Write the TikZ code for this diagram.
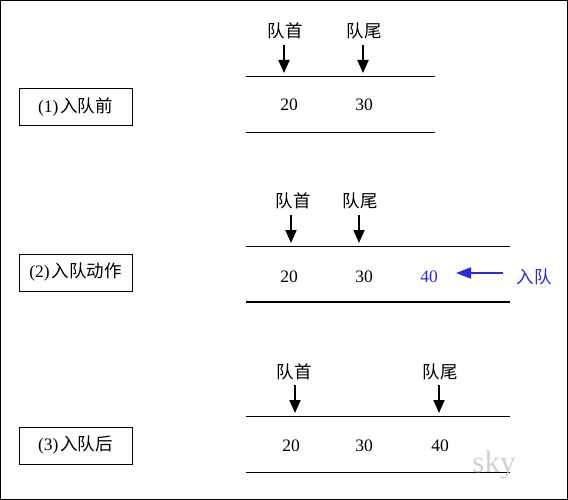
\documentclass[tikz,border=0pt]{standalone}
\usepackage{fontspec}
\setmainfont{Liberation Serif}
\newfontfamily\cjk{Noto Sans CJK SC}
\usetikzlibrary{arrows.meta}
\definecolor{qblue}{RGB}{40,40,230}
\tikzset{
  lbl/.style={draw, line width=0.9pt, minimum width=113pt, minimum height=37pt, inner sep=0pt, font=\fontsize{17.5}{20}\selectfont},
  txt/.style={inner sep=0pt, font=\fontsize{17.5}{20}\selectfont},
  ptr/.style={line width=2pt, -{Triangle[length=13pt,width=11pt]}},
  rail/.style={line width=0.9pt},
}
\begin{document}
\begin{tikzpicture}[x=1pt,y=-1pt]
\draw[line width=1pt] (0.5,0.5) rectangle (567.5,499.5);
\useasboundingbox (0,0) rectangle (568,500);
% panel 1
\node[lbl] (b1) at (75.5,106.5) {(1)\kern2pt{\cjk 入队前}};
\coordinate (l1a) at (246,76); \coordinate (l1b) at (435,76);
\coordinate (l1c) at (246,132); \coordinate (l1d) at (435,132);
\draw[rail] (l1a) -- (l1b);
\draw[rail] (l1c) -- (l1d);
\node[txt] (n120) at (289,105) {20};
\node[txt] (n130) at (364,105) {30};
\node[txt] (h1) at (285,31) {\cjk 队首};
\node[txt] (t1) at (364,31) {\cjk 队尾};
\coordinate (h1s) at (284,45); \coordinate (h1e) at (284,73);
\coordinate (t1s) at (363,45); \coordinate (t1e) at (363,73);
\draw[ptr] (h1s) -- (h1e);
\draw[ptr] (t1s) -- (t1e);
% panel 2
\node[lbl] (b2) at (75.5,272.5) {(2)\kern2pt{\cjk 入队动作}};
\coordinate (l2a) at (246,246); \coordinate (l2b) at (510,246);
\coordinate (l2c) at (246,302); \coordinate (l2d) at (510,302);
\draw[rail] (l2a) -- (l2b);
\draw[line width=2.2pt] (l2c) -- (l2d);
\node[txt] (n220) at (289,277) {20};
\node[txt] (n230) at (364,277) {30};
\node[txt, text=qblue] (n240) at (429,277) {40};
\node[txt] (h2) at (293,201) {\cjk 队首};
\node[txt] (t2) at (360,201) {\cjk 队尾};
\coordinate (h2s) at (291,215); \coordinate (h2e) at (291,243);
\coordinate (t2s) at (359,215); \coordinate (t2e) at (359,243);
\draw[ptr] (h2s) -- (h2e);
\draw[ptr] (t2s) -- (t2e);
\node[txt, text=qblue] (enq) at (534,277) {\cjk 入队};
\coordinate (es) at (503,273); \coordinate (ee) at (456,273);
\draw[ptr, draw=qblue, fill=qblue, -{Triangle[length=15pt,width=11pt]}] (es) -- (ee);
% panel 3
\node[lbl] (b3) at (75.5,445.5) {(3)\kern2pt{\cjk 入队后}};
\coordinate (l3a) at (246,416); \coordinate (l3b) at (510,416);
\coordinate (l3c) at (246,472); \coordinate (l3d) at (510,472);
\draw[rail] (l3a) -- (l3b);
\draw[rail] (l3c) -- (l3d);
\node[txt] (n320) at (291,446) {20};
\node[txt] (n330) at (364,446) {30};
\node[txt] (n340) at (440,446) {40};
\node[txt] (h3) at (294,372) {\cjk 队首};
\node[txt] (t3) at (440,372) {\cjk 队尾};
\coordinate (h3s) at (295,385); \coordinate (h3e) at (295,413);
\coordinate (t3s) at (439,385); \coordinate (t3e) at (439,413);
\draw[ptr] (h3s) -- (h3e);
\draw[ptr] (t3s) -- (t3e);
\node[txt, text=black!18, font=\fontsize{31}{34}\selectfont] (sky) at (494,465) {sky};
\end{tikzpicture}
\end{document}
